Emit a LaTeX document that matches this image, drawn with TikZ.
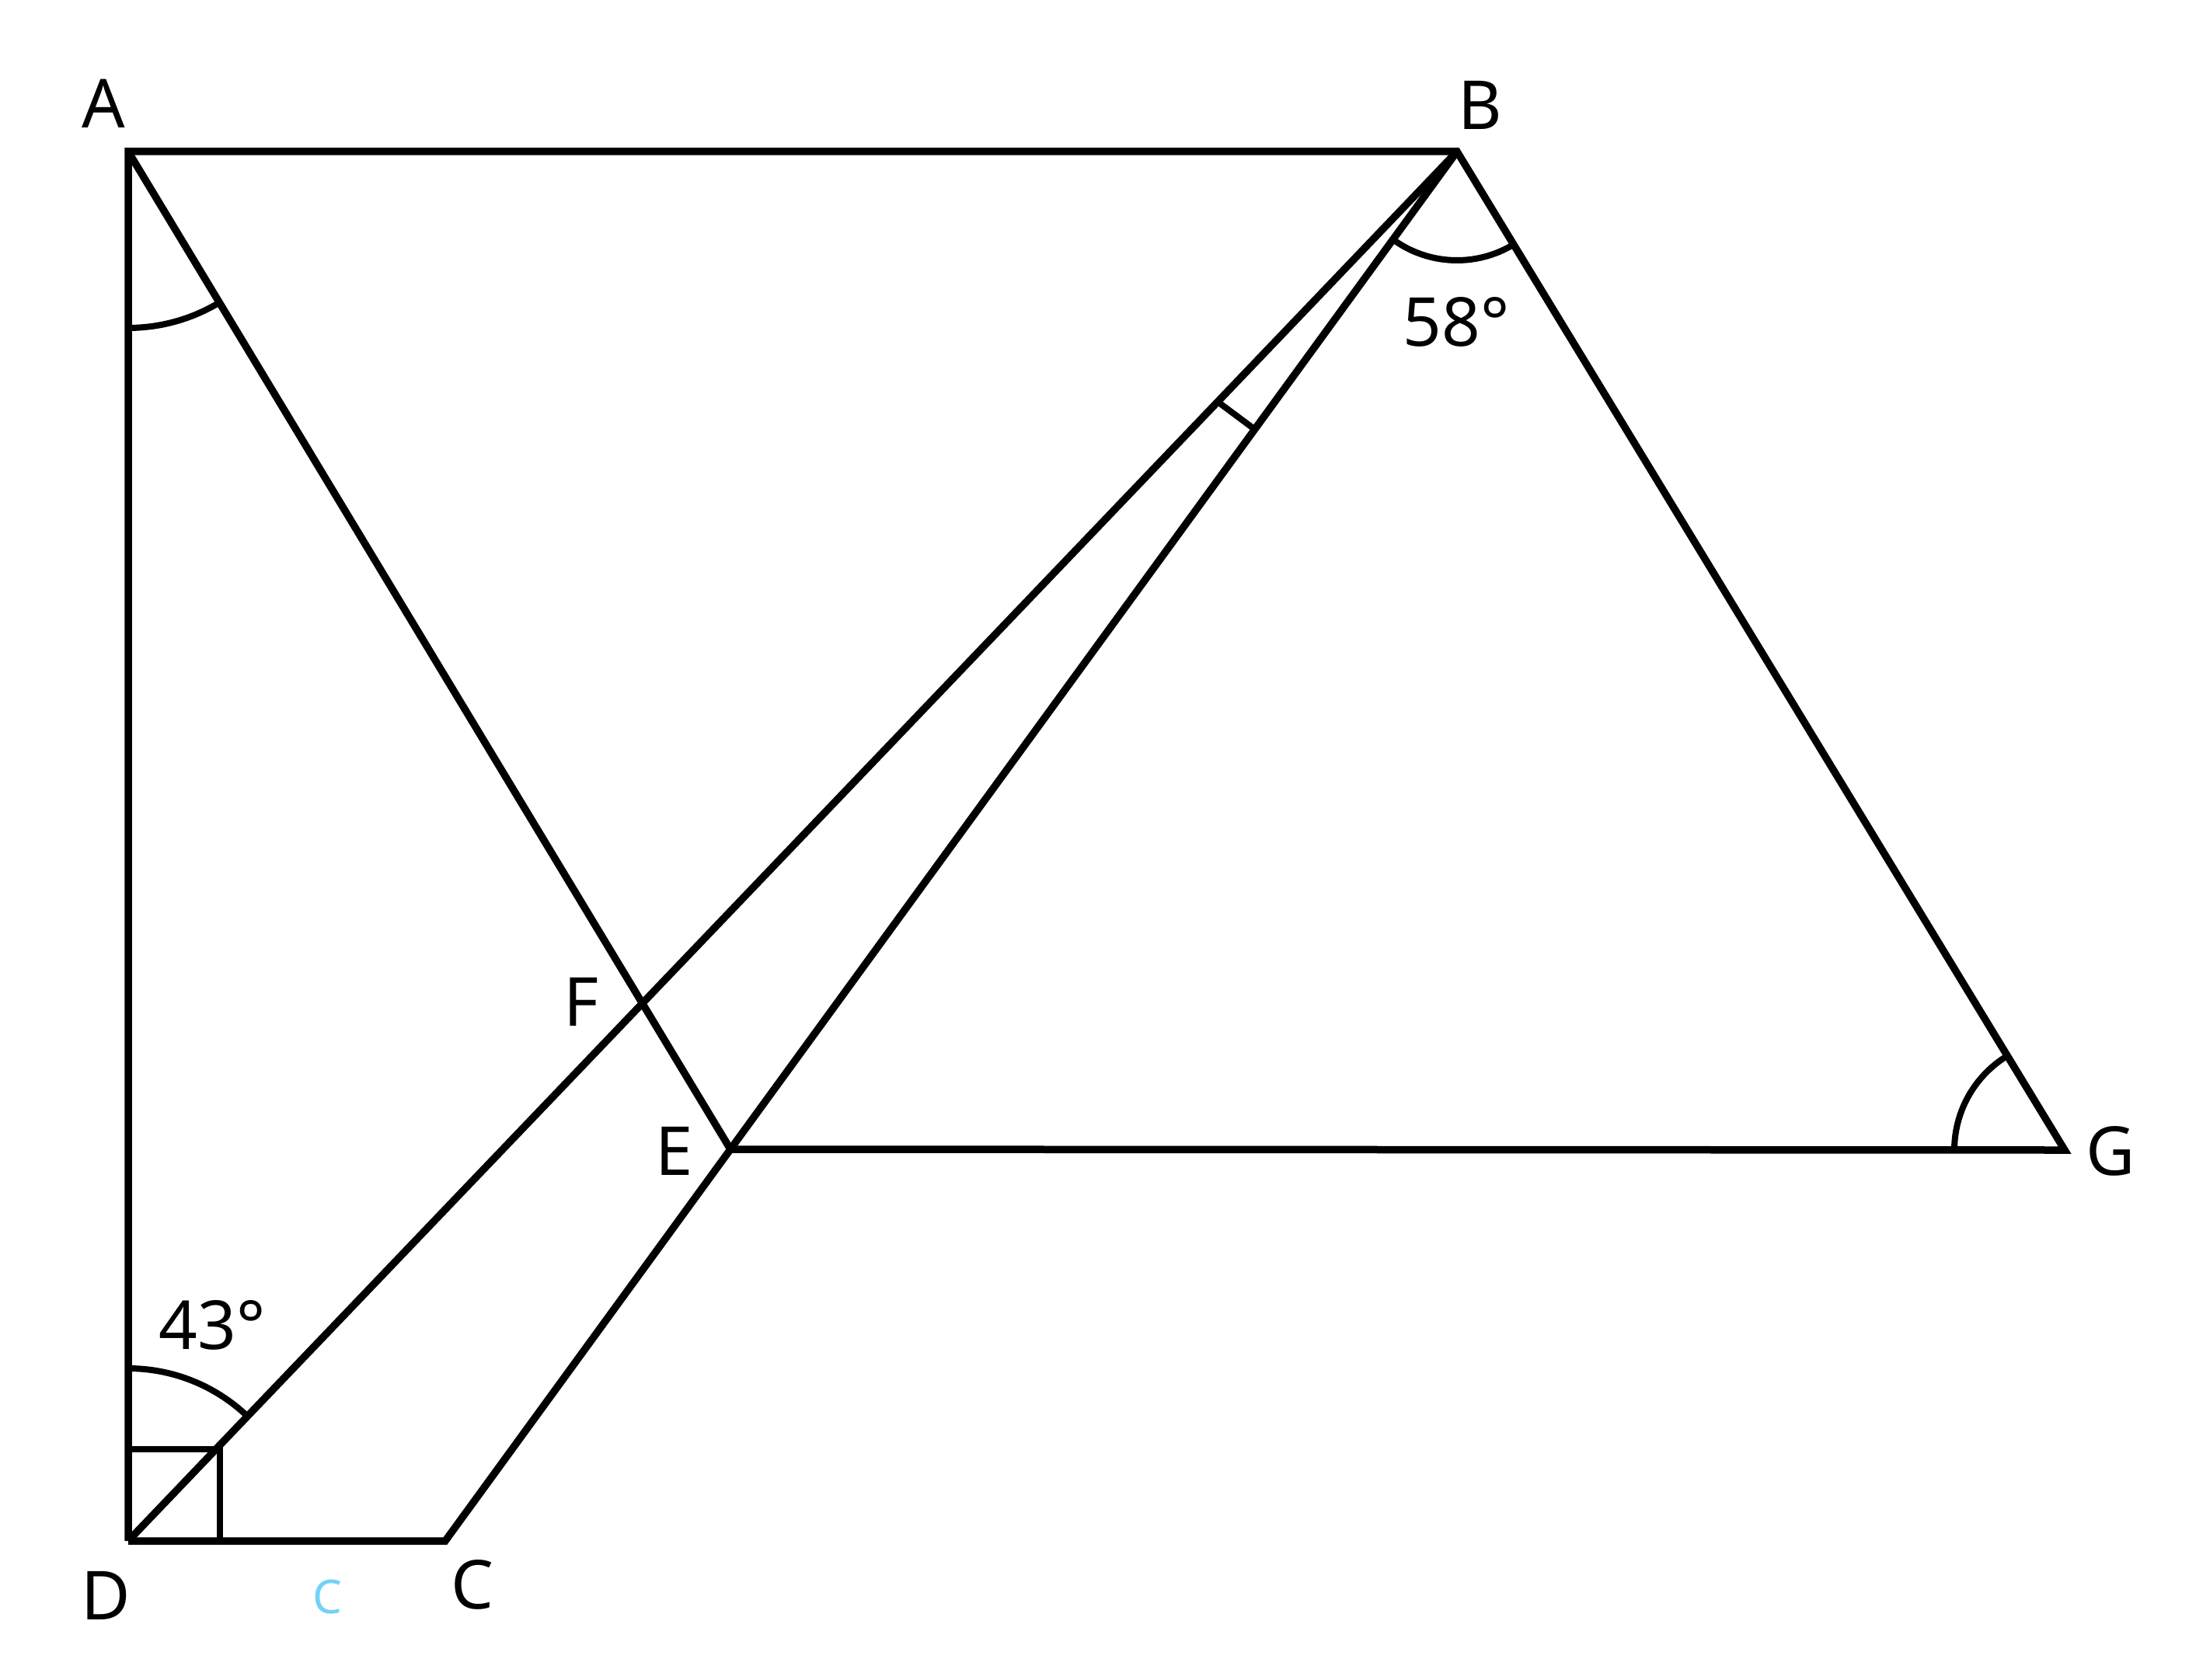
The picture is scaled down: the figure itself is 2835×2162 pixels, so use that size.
\documentclass[tikz,border=0pt]{standalone}
\usepackage{fontspec}
\setmainfont{Noto Sans}
\begin{document}
\begin{tikzpicture}[x=1pt,y=-1pt,
  seg/.style={line width=9.5pt,line join=miter},
  anglearc/.style={line width=8pt},
  lbl/.style={inner sep=0pt,font=\fontsize{87}{100}\selectfont}]
\useasboundingbox (0,0) rectangle (2835,2162);
\coordinate (A) at (165,195);
\coordinate (B) at (1875,195);
\coordinate (G) at (2657,1480);
\coordinate (E) at (940,1479);
\coordinate (D) at (165,1983);
\coordinate (C) at (573,1983);
\coordinate (F) at (825,1292);
% main lines
\draw[seg] (D) -- (A) -- (B) -- (G) -- (E);
\draw[seg] (D) -- (C) -- (B);
\draw[seg] (A) -- (E);
\draw[seg] (B) -- (D);
% right-angle square at D
\coordinate (Q1) at (283,1983);
\coordinate (Q2) at (283,1865);
\coordinate (Q3) at (165,1865);
\draw[anglearc] (Q1) -- (Q2) -- (Q3);
% tick between BD and BE
\coordinate (P1) at (1614,552);
\coordinate (P2) at (1567,517);
\draw[anglearc] (P1) -- (P2);
% angle arcs
\draw[anglearc] ([shift={(58.86:227)}]A) arc (58.86:90:227);
\draw[anglearc] ([shift={(58.67:140)}]B) arc (58.67:126.08:140);
\draw[anglearc] ([shift={(180:142)}]G) arc (180:238.67:142);
\draw[anglearc] ([shift={(-90:222)}]D) arc (-90:-46.27:222);
% labels
\node[lbl] (lA) at (133,133) {A};
\node[lbl] (lB) at (1905,135) {B};
\node[lbl] (lG) at (2716,1481) {G};
\node[lbl] (lC) at (608,2039) {C};
\node[lbl] (lF) at (748,1289) {F};
\node[lbl] (lE) at (868,1481) {E};
\node[lbl] (lD) at (136,2053) {D};
\node[lbl] (l58) at (1874,414) {58°};
\node[lbl] (l43) at (273,1705) {43°};
\node[lbl,text=cyan!55,font=\fontsize{60}{70}\selectfont] (lc) at (421,2055) {C};
\end{tikzpicture}
\end{document}
